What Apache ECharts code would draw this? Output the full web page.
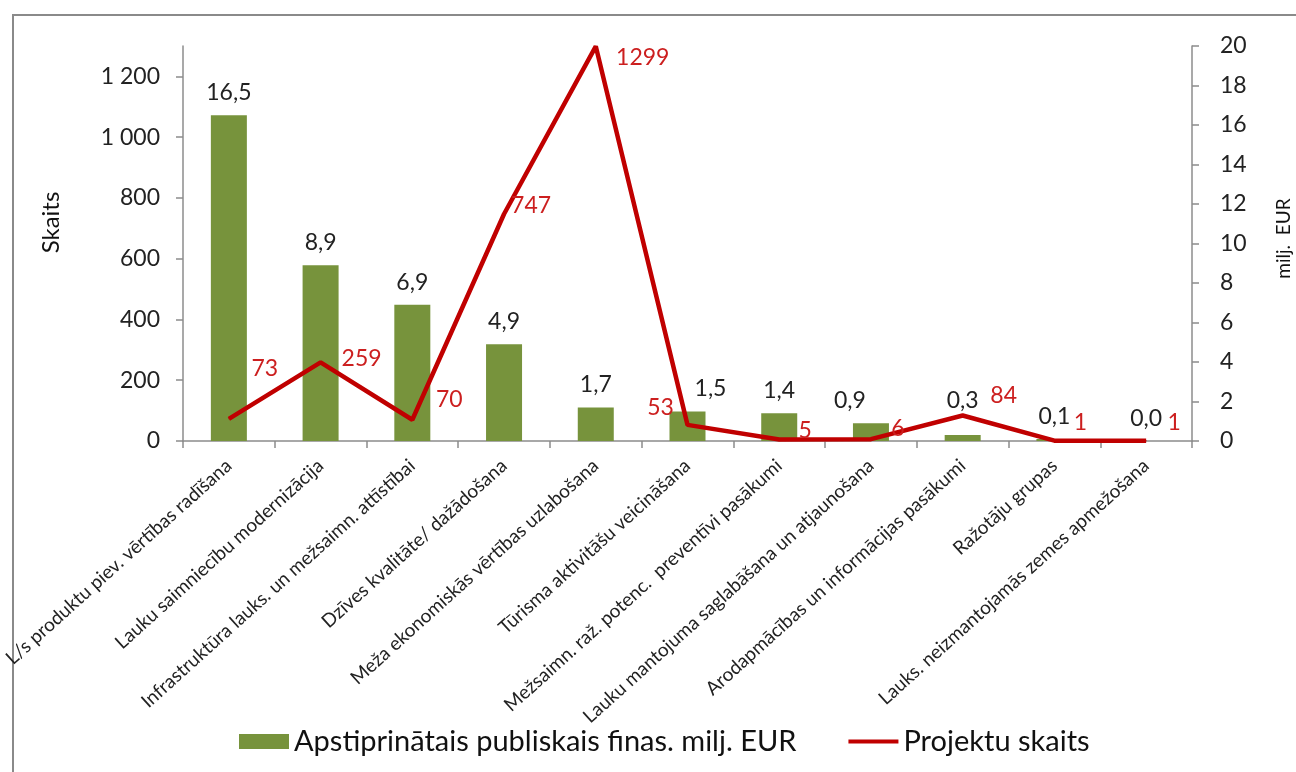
<!DOCTYPE html>
<html lang="lv">
<head>
<meta charset="UTF-8" />
<title>Projektu skaits un publiskais finansējums</title>
<style>
  body { margin: 0; padding: 0; background: #fff; }
  #wrap { position: relative; width: 1296px; height: 772px; overflow: hidden; }
  #frame {
    position: absolute; left: 12px; top: 14px;
    width: 1400px; height: 900px;
    border-left: 2px solid #8a8a8a; border-top: 2px solid #8a8a8a;
  }
  #chart { position: absolute; left: 0; top: 0; width: 1296px; height: 772px; }
</style>
</head>
<body>
<div id="wrap">
  <div id="frame"></div>
  <div id="chart"></div>
</div>

<script src="https://cdn.jsdelivr.net/npm/echarts@6/dist/echarts.min.js"></script>
<script>
  // dati
  const categories = [
    'L/s produktu piev. vērtības radīšana',
    'Lauku saimniecību modernizācija',
    'Infrastruktūra lauks. un mežsaimn. attīstībai',
    'Dzīves kvalitāte/ dažādošana',
    'Meža ekonomiskās vērtības uzlabošana',
    'Tūrisma aktivitāšu veicināšana',
    'Mežsaimn. raž. potenc.  preventīvi pasākumi',
    'Lauku mantojuma saglabāšana un atjaunošana',
    'Arodapmācības un informācijas pasākumi',
    'Ražotāju grupas',
    'Lauks. neizmantojamās zemes apmežošana'
  ];
  const finance = [16.5, 8.9, 6.9, 4.9, 1.7, 1.5, 1.4, 0.9, 0.3, 0.1, 0.0];
  const projects = [73, 259, 70, 747, 1299, 53, 5, 6, 84, 1, 1];
  const countTicks = [0, 200, 400, 600, 800, 1000, 1200];

  // etiķešu nobīdes (kā oriģinālā, ar roku pārvietotas)
  const lineLabelShift = [[36, -50], [41, -4], [37, -20], [27, -8], [47, 11], [-27, -17],
                          [26, -9], [27, -11], [41, -20], [26, -18], [28, -18]];
  const barLabelShift = [[0, 0], [0, 0], [0, 0], [0, 0], [0, 0], [23, 0],
                         [0, 0], [-21, 0], [0, -12], [0, 0], [0, 0]];

  const FONT = 'Lato, "Open Sans", sans-serif';
  const GREEN = '#77933C';
  const RED = '#C00000';
  const AXIS = '#8c8c8c';

  const fmtSpace = v => String(v).replace(/(\d)(?=(\d{3})+$)/g, '$1 ');
  const fmtComma = v => v.toFixed(1).replace('.', ',');

  const chart = echarts.init(document.getElementById('chart'));

  chart.setOption({
    animation: false,
    textStyle: { fontFamily: FONT },
    grid: { left: 183, right: 104, top: 46, bottom: 331, outerBoundsMode: 'none' },
    legend: {
      bottom: 11,
      left: 234,
      itemWidth: 50,
      itemHeight: 15,
      itemGap: 52,
      textStyle: { fontSize: 29, color: '#111', fontFamily: FONT },
      data: [
        { name: 'Apstiprinātais publiskais finas. milj. EUR', icon: 'rect' },
        { name: 'Projektu skaits', icon: 'path://M0,0H50V4H0Z' }
      ]
    },
    xAxis: {
      type: 'category',
      data: categories,
      axisLine: { lineStyle: { color: AXIS, width: 1.5 } },
      axisTick: { show: true, length: 7, lineStyle: { color: AXIS, width: 1.5 } },
      axisLabel: {
        interval: 0,
        rotate: 42,
        margin: 22,
        fontSize: 19,
        color: '#222',
        fontFamily: FONT
      }
    },
    yAxis: [
      {
        type: 'value',
        min: 0,
        max: 1300,
        interval: 200,
        name: 'Skaits',
        nameLocation: 'middle',
        nameRotate: 90,
        nameGap: 120,
        nameTextStyle: { fontSize: 24, color: '#111', fontFamily: FONT, padding: [0, 0, 0, 42] },
        splitLine: { show: false },
        axisLine: { show: true, lineStyle: { color: AXIS, width: 1.5 } },
        axisTick: { show: true, length: 7, customValues: countTicks, lineStyle: { color: AXIS, width: 1.5 } },
        axisLabel: {
          margin: 23,
          fontSize: 23,
          color: '#222',
          fontFamily: FONT,
          customValues: countTicks,
          formatter: fmtSpace
        }
      },
      {
        type: 'value',
        min: 0,
        max: 20,
        interval: 2,
        name: 'milj.  EUR',
        nameLocation: 'middle',
        nameRotate: 90,
        nameGap: 82,
        nameTextStyle: { fontSize: 19, color: '#111', fontFamily: FONT, padding: [0, 0, 0, 10] },
        splitLine: { show: false },
        axisLine: { show: true, lineStyle: { color: AXIS, width: 1.5 } },
        axisTick: { show: true, length: 7, lineStyle: { color: AXIS, width: 1.5 } },
        axisLabel: { margin: 28, fontSize: 23, color: '#222', fontFamily: FONT }
      }
    ],
    series: [
      {
        name: 'Apstiprinātais publiskais finas. milj. EUR',
        type: 'bar',
        yAxisIndex: 1,
        barWidth: 36,
        itemStyle: { color: GREEN },
        data: finance.map((v, i) => ({
          value: v,
          label: { offset: barLabelShift[i] }
        })),
        label: {
          show: true,
          position: 'top',
          distance: 11,
          fontSize: 23,
          color: '#222',
          fontFamily: FONT,
          formatter: p => fmtComma(p.value)
        }
      },
      {
        name: 'Projektu skaits',
        type: 'line',
        yAxisIndex: 0,
        symbol: 'circle',
        symbolSize: 1,
        itemStyle: { color: RED },
        lineStyle: { color: RED, width: 4.5 },
        data: projects.map((v, i) => ({
          value: v,
          label: { offset: lineLabelShift[i] }
        })),
        label: {
          show: true,
          position: 'inside',
          fontSize: 23,
          color: '#CC1F1F',
          fontFamily: FONT
        }
      }
    ]
  });
</script>
</body>
</html>
